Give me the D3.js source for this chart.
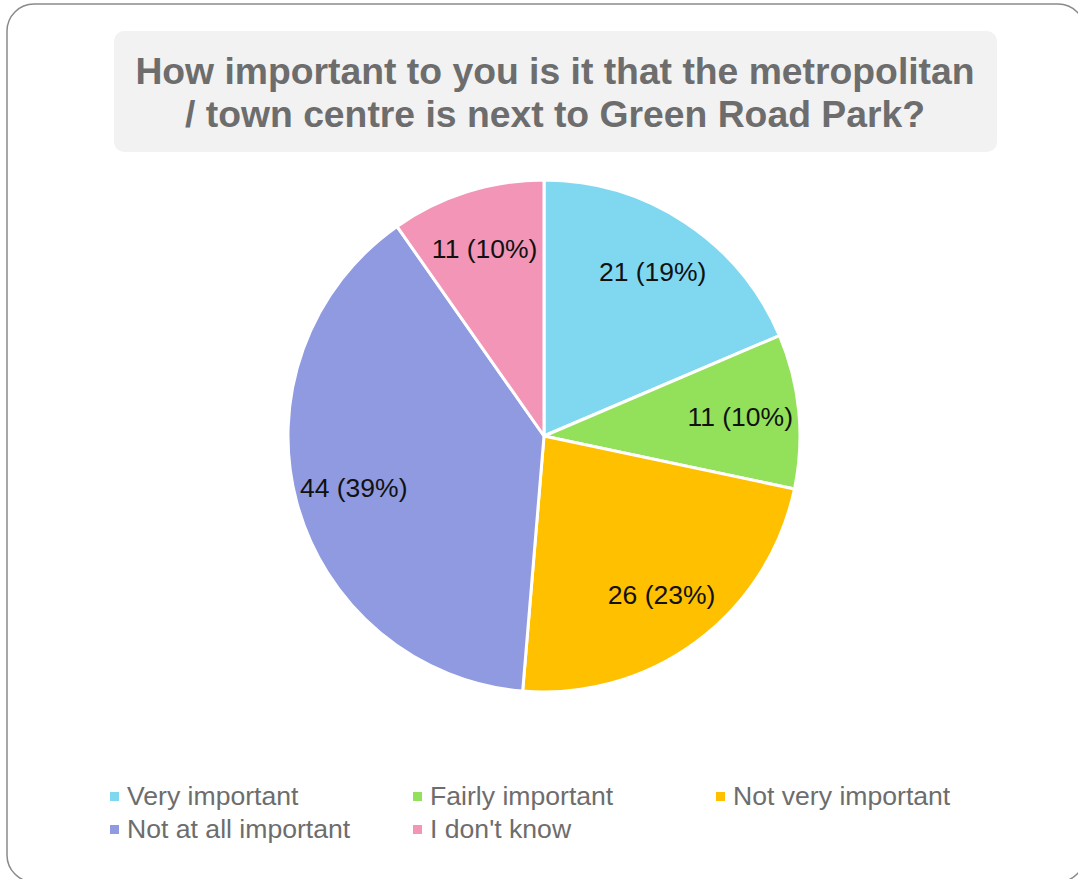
<!DOCTYPE html>
<html>
<head>
<meta charset="utf-8">
<script src="https://cdn.jsdelivr.net/npm/d3@7"></script>
<style>
  html, body { margin: 0; padding: 0; background: #fff; }
  svg { display: block; font-family: "Liberation Sans", Arial, sans-serif; }
</style>
</head>
<body>
<svg id="chart" width="1078" height="879"></svg>
<script>
// Survey responses
const categories = ["Very important", "Fairly important", "Not very important", "Not at all important", "I don't know"];
const counts = [21, 11, 26, 44, 11];
const colors = ["#7fd8f0", "#93e15b", "#ffc000", "#8f9ae0", "#f295b7"];
const titleLines = ["How important to you is it that the metropolitan", "/ town centre is next to Green Road Park?"];

const W = 1078, H = 879;
const svg = d3.select("#chart");

// Outer frame
svg.append("rect")
  .attr("x", 7).attr("y", 4)
  .attr("width", 1078).attr("height", 878)
  .attr("rx", 27).attr("ry", 27)
  .attr("fill", "#fff")
  .attr("stroke", "#8a8a8a")
  .attr("stroke-width", 1.5);

// Title panel
svg.append("rect")
  .attr("x", 114).attr("y", 31)
  .attr("width", 883).attr("height", 121)
  .attr("rx", 10).attr("ry", 10)
  .attr("fill", "#f2f2f2");

svg.append("g")
  .selectAll("text")
  .data(titleLines)
  .join("text")
  .attr("x", 555)
  .attr("y", (d, i) => 84 + i * 43)
  .attr("text-anchor", "middle")
  .attr("font-size", 37.3)
  .attr("font-weight", "bold")
  .attr("fill", "#6d6d6d")
  .text(d => d);

// Pie
const cx = 544, cy = 436, R = 256;
const total = d3.sum(counts);
const data = categories.map((c, i) => ({ cat: c, value: counts[i], color: colors[i] }));

const pie = d3.pie().value(d => d.value).sort(null);
const arc = d3.arc().innerRadius(0).outerRadius(R);
const labelArc = d3.arc().innerRadius(R * 0.77).outerRadius(R * 0.77);

const g = svg.append("g").attr("transform", `translate(${cx},${cy})`);
const arcs = pie(data);

g.selectAll("path")
  .data(arcs)
  .join("path")
  .attr("d", arc)
  .attr("fill", d => d.data.color)
  .attr("stroke", "#fff")
  .attr("stroke-width", 3)
  .attr("stroke-linejoin", "round");

g.selectAll("text")
  .data(arcs)
  .join("text")
  .attr("transform", d => `translate(${labelArc.centroid(d)})`)
  .attr("text-anchor", "middle")
  .attr("dy", "0.36em")
  .attr("font-size", 26.5)
  .attr("fill", "#111")
  .text(d => `${d.data.value} (${Math.round(d.data.value / total * 100)}%)`);

// Legend
const colX = d3.scalePoint().domain([0, 1, 2]).range([110, 716]);
const legend = svg.append("g")
  .selectAll("g")
  .data(data)
  .join("g")
  .attr("transform", (d, i) => `translate(${colX(i % 3)},${805 + Math.floor(i / 3) * 33})`);

legend.append("rect")
  .attr("x", 0).attr("y", -13)
  .attr("width", 9).attr("height", 9)
  .attr("fill", d => d.color);

legend.append("text")
  .attr("x", 17)
  .attr("y", 0)
  .attr("font-size", 26.6)
  .attr("fill", "#6d6d6d")
  .text(d => d.cat);
</script>
</body>
</html>
